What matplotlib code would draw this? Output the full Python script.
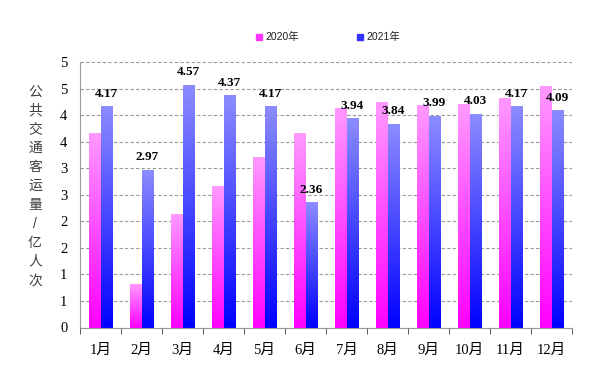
import math
import numpy as np
import matplotlib
matplotlib.use('Agg')
import matplotlib.pyplot as plt
from matplotlib.ticker import FuncFormatter, MultipleLocator

months = ['1月', '2月', '3月', '4月', '5月', '6月', '7月', '8月', '9月', '10月', '11月', '12月']
y2020 = [3.67, 0.82, 2.13, 2.67, 3.22, 3.67, 4.14, 4.24, 4.19, 4.21, 4.33, 4.54]
y2021 = [4.17, 2.97, 4.57, 4.37, 4.17, 2.36, 3.94, 3.84, 3.99, 4.03, 4.17, 4.09]
series_names = ['2020年', '2021年']
ylabel = '公共交通客运量/亿人次'

serif = ['Liberation Serif', 'Noto Sans CJK SC']
sans = ['Liberation Sans', 'Noto Sans CJK SC']

fig = plt.figure(figsize=(6.04, 3.65), dpi=100)
ax = fig.add_axes([80 / 604, 1 - 327.5 / 365, 492 / 604, 265.5 / 365])

x = np.arange(len(months))
w = 0.29
bars20 = ax.bar(x - w / 2, y2020, w, color='#ff33ff', zorder=2)
bars21 = ax.bar(x + w / 2, y2021, w, color='#3333ff', zorder=2)


def gradient(bars, bottom_rgb, top_rgb):
    grad = np.linspace(0, 1, 256)
    img = np.zeros((256, 1, 3))
    for i in range(3):
        img[:, 0, i] = bottom_rgb[i] + (top_rgb[i] - bottom_rgb[i]) * grad
    for b in bars:
        b.set_visible(False)
        x0, y0 = b.get_x(), b.get_y()
        ax.imshow(img, extent=[x0, x0 + b.get_width(), y0, y0 + b.get_height()],
                  origin='lower', aspect='auto', zorder=2, interpolation='bilinear')


gradient(bars20, (1.0, 0.0, 1.0), (1.0, 0.6, 1.0))
gradient(bars21, (0.0, 0.0, 1.0), (0.55, 0.55, 1.0))

# value labels only on 2021 bars
for xi, v in zip(x, y2021):
    ax.text(xi + w / 2, v + 0.12, f'{v:.2f}', ha='center', va='bottom',
            fontsize=9.5, fontweight='bold', family=serif, zorder=3)

ax.set_xlim(-0.5, len(months) - 0.5)
ax.set_ylim(0, 5)
ax.yaxis.set_major_locator(MultipleLocator(0.5))
# excel-style rounding of the 0.5 steps
ax.yaxis.set_major_formatter(FuncFormatter(lambda v, p: str(int(math.floor(v + 0.5)))))
ax.grid(axis='y', linestyle=(0, (3, 2)), color='#999999', linewidth=0.8, zorder=1)

ax.set_xticks(x)
ax.set_xticklabels(months)
ax.set_xticks(np.arange(len(months) + 1) - 0.5, minor=True)
ax.tick_params(axis='x', which='major', length=0, pad=12)
ax.tick_params(axis='x', which='minor', length=4, direction='out', color='#404040')
ax.tick_params(axis='y', length=0, pad=9)
for lab in ax.get_xticklabels() + ax.get_yticklabels():
    lab.set_family(serif)
    lab.set_fontsize(10.5)

for s in ['top', 'right']:
    ax.spines[s].set_visible(False)
ax.spines['left'].set_color('#999999')
ax.spines['bottom'].set_color('#999999')
ax.spines['left'].set_zorder(4)

fig.text(35 / 604, 1 - 186 / 365, '\n'.join(ylabel), ha='center', va='center',
         fontsize=10, color='#404040', family=sans, linespacing=1.45)

# legend
for name, col, lx in [(series_names[0], '#ff33ff', 259), (series_names[1], '#3333ff', 360)]:
    fig.patches.append(plt.Rectangle((lx / 604 - 3 / 604, 1 - 40 / 365), 6 / 604, 6 / 365,
                                     transform=fig.transFigure, color=col, figure=fig))
    fig.text(lx / 604 + 6 / 604, 1 - 37 / 365, name, ha='left', va='center',
             fontsize=7.5, family=sans, color='#202020')

fig.savefig('out.png', dpi=100)
